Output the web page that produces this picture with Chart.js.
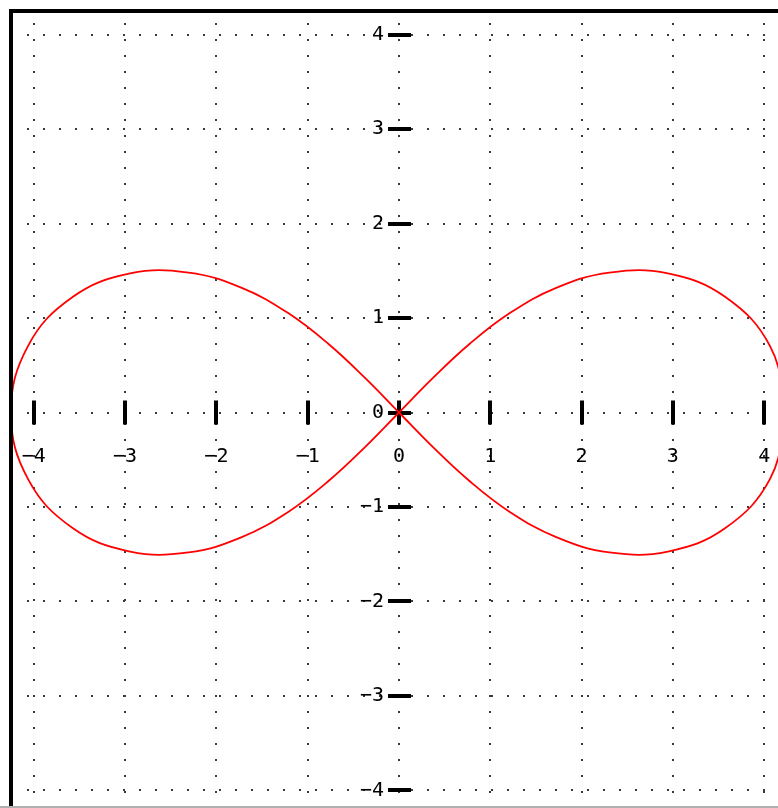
<!DOCTYPE html>
<html>
<head>
<meta charset="utf-8">
<title>Lemniscate</title>
<script src="https://cdn.jsdelivr.net/npm/chart.js@4.4.1/dist/chart.umd.min.js"></script>
<style>
    html, body { margin: 0; padding: 0; background: #ffffff; overflow: hidden; }
    #wrap { position: absolute; left: 0; top: 0; width: 778px; height: 808px; overflow: hidden; }
    #plot { position: absolute; left: 0; top: 0; }
</style>
</head>
<body>
<div id="wrap">
    <canvas id="plot" width="787" height="814"></canvas>
</div>
<script>
// Curve points (x, y) traced around the figure-eight, starting at the right tip
const curveX = [4.25, 4.063, 3.575, 2.945, 2.304, 1.722, 1.214, 0.772, 0.375, 0,
    -0.375, -0.772, -1.214, -1.722, -2.304, -2.945, -3.575, -4.063, -4.25,
    -4.063, -3.575, -2.945, -2.304, -1.722, -1.214, -0.772, -0.375, 0,
    0.375, 0.772, 1.214, 1.722, 2.304, 2.945, 3.575, 4.063, 4.25];
const curveY = [0, 0.706, 1.223, 1.472, 1.481, 1.319, 1.052, 0.725, 0.369, 0,
    -0.369, -0.725, -1.052, -1.319, -1.481, -1.472, -1.223, -0.706, 0,
    0.706, 1.223, 1.472, 1.481, 1.319, 1.052, 0.725, 0.369, 0,
    -0.369, -0.725, -1.052, -1.319, -1.481, -1.472, -1.223, -0.706, 0];

// Axis ticks and their labels
const xTickValues = [-4, -3, -2, -1, 0, 1, 2, 3, 4];
const xTickLabels = ['\u22124', '\u22123', '\u22122', '\u22121', '0', '1', '2', '3', '4'];
const yTickValues = [4, 3, 2, 1, 0, -1, -2, -3, -4];
const yTickLabels = ['4', '3', '2', '1', '0', '\u22121', '\u22122', '\u22123', '\u22124'];

const points = curveX.map((x, i) => ({ x: x, y: curveY[i] }));

// Centered axes: thick tick marks through the origin plus labels
const centerAxes = {
    id: 'centerAxes',
    beforeDatasetsDraw(chart) {
        const ctx = chart.ctx;
        const xs = chart.scales.x, ys = chart.scales.y;
        const ox = xs.getPixelForValue(0), oy = ys.getPixelForValue(0);
        ctx.save();
        ctx.fillStyle = '#000000';
        xTickValues.forEach(v => {
            const px = Math.round(xs.getPixelForValue(v));
            ctx.fillRect(px - 2, oy - 12, 4, 24);
        });
        yTickValues.forEach(v => {
            const py = Math.round(ys.getPixelForValue(v));
            ctx.fillRect(ox - 11, py - 2, 23, 4);
        });
        ctx.restore();
    },
    afterDraw(chart) {
        const ctx = chart.ctx;
        const xs = chart.scales.x, ys = chart.scales.y;
        const ox = xs.getPixelForValue(0), oy = ys.getPixelForValue(0);
        const area = chart.chartArea;
        ctx.save();
        ctx.fillStyle = '#000000';
        ctx.font = '20px "DejaVu Sans Mono"';
        ctx.textBaseline = 'middle';
        ctx.textAlign = 'center';
        xTickValues.forEach((v, i) => {
            ctx.fillText(xTickLabels[i], xs.getPixelForValue(v), oy + 44);
        });
        ctx.textAlign = 'right';
        yTickValues.forEach((v, i) => {
            ctx.fillText(yTickLabels[i], ox - 15, ys.getPixelForValue(v));
        });

        // frame: heavy top and left edges
        ctx.strokeStyle = '#000000';
        ctx.lineWidth = 4;
        ctx.beginPath();
        ctx.moveTo(area.left, chart.height);
        ctx.lineTo(area.left, area.top);
        ctx.lineTo(chart.width, area.top);
        ctx.stroke();
        ctx.strokeStyle = '#b0b0b0';
        ctx.lineWidth = 2;
        ctx.beginPath();
        ctx.moveTo(0, 807);
        ctx.lineTo(chart.width, 807);
        ctx.stroke();
        ctx.restore();
    }
};

new Chart(document.getElementById('plot'), {
    type: 'scatter',
    data: {
        datasets: [{
            data: points,
            showLine: true,
            borderColor: '#ff0000',
            borderWidth: 1.8,
            pointRadius: 0,
            tension: 0.4,
            fill: false
        }]
    },
    options: {
        responsive: false,
        animation: false,
        layout: { padding: { left: 11, top: 11, right: 0, bottom: 0 } },
        plugins: {
            legend: { display: false },
            tooltip: { enabled: false }
        },
        scales: {
            x: {
                type: 'linear',
                min: -4.25,
                max: 4.25,
                ticks: { display: false, stepSize: 1, includeBounds: false },
                grid: { color: '#3a3a3a', lineWidth: 2, drawTicks: false },
                border: { display: false, dash: [2, 14], dashOffset: 4 }
            },
            y: {
                type: 'linear',
                min: -4.25,
                max: 4.25,
                ticks: { display: false, stepSize: 1, includeBounds: false },
                grid: { color: '#3a3a3a', lineWidth: 2, drawTicks: false },
                border: { display: false, dash: [2, 14], dashOffset: 0 }
            }
        }
    },
    plugins: [centerAxes]
});
</script>
</body>
</html>
